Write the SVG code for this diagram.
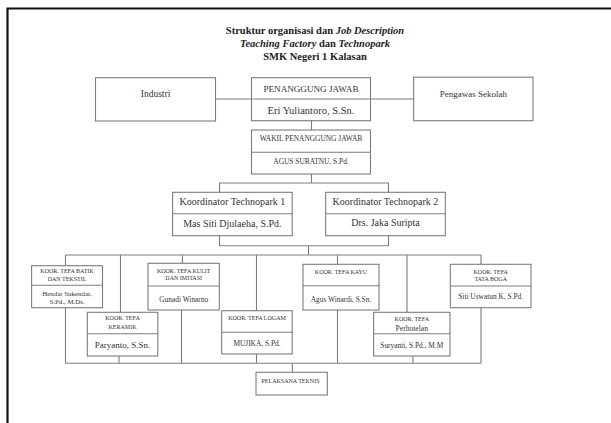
<svg xmlns="http://www.w3.org/2000/svg" width="611" height="423" viewBox="0 0 611 423">
<style>
  .frame { fill: none; stroke: #111; stroke-width: 2.2; }
  .box { fill: #fff; stroke: #7d7d7d; stroke-width: 1.1; }
  .div { stroke: #7d7d7d; stroke-width: 1.1; }
  .ln { fill: none; stroke: #7d7d7d; stroke-width: 1.1; }
  text { font-family: "Liberation Serif", "Times New Roman", serif; fill: #333; text-anchor: middle; dominant-baseline: central; }
  .title { font-weight: bold; font-size: 10.5px; fill: #222; }
  .m { font-size: 10px; }
  .s { font-size: 7.4px; }
  .xs { font-size: 6px; }
</style>
<rect width="611" height="423" fill="#fff"/>
<path class="frame" d="M7.5 423 V8.5 H611"/>

<g id="title">
  <text class="title" x="315" y="30">Struktur organisasi dan <tspan font-style="italic">Job Description</tspan></text>
  <text class="title" x="315" y="43"><tspan font-style="italic">Teaching Factory</tspan> dan <tspan font-style="italic">Technopark</tspan></text>
  <text class="title" x="315" y="56">SMK Negeri 1 Kalasan</text>
</g>

<g id="connectors">
  <path class="ln" d="M215.5 99 H413.7"/>
  <path class="ln" d="M311.5 120.7 V130"/>
  <path class="ln" d="M311.5 174 V183 M219.5 192.3 V183 H388.5 V192.3"/>
  <path class="ln" d="M219.5 235.7 V245.7 H388.5 V235.7 M308.5 245.7 V255"/>
  <path class="ln" d="M65.5 255 H481 M65.5 255 V363.3 M120.5 255 V312.3 M119 356 V363.3 M182.5 255 V263.3 M181.5 310 V363.3 M256.5 255 V363.3 M337.5 255 V363.3 M407 255 V312.3 M413 356 V363.3 M481 255 V363.3 M65.5 363.3 H481"/>
  <path class="ln" d="M292.3 363.3 V372.3"/>
</g>

<g id="industri">
  <rect class="box" x="95.5" y="77.7" width="120" height="43.3"/>
  <text class="m" x="155.5" y="94.3" style="font-size:9.5px">Industri</text>
</g>

<g id="penanggung-jawab">
  <rect class="box" x="251.5" y="77.7" width="119" height="43"/>
  <line class="div" x1="251.5" y1="99" x2="370.5" y2="99"/>
  <text x="311" y="89" style="font-size:9.1px">PENANGGUNG JAWAB</text>
  <text x="311" y="110.5" style="font-size:10.5px">Eri Yuliantoro, S.Sn.</text>
</g>

<g id="pengawas">
  <rect class="box" x="413.7" y="77.2" width="119.3" height="43.5"/>
  <text x="473.3" y="94.3" style="font-size:9px">Pengawas Sekolah</text>
</g>

<g id="wakil">
  <rect class="box" x="251.5" y="130" width="119" height="44"/>
  <line class="div" x1="251.5" y1="152.3" x2="370.5" y2="152.3"/>
  <text class="s" x="311" y="138.7">WAKIL PENANGGUNG JAWAB</text>
  <text class="s" x="311" y="161">AGUS SURATNU, S.Pd.</text>
</g>

<g id="koordinator-1">
  <rect class="box" x="172.6" y="192.3" width="119.6" height="43.4"/>
  <line class="div" x1="172.6" y1="213.7" x2="292.2" y2="213.7"/>
  <text class="m" x="232.4" y="201.7">Koordinator Technopark 1</text>
  <text class="m" x="232.4" y="223.3">Mas Siti Djulaeha, S.Pd.</text>
</g>

<g id="koordinator-2">
  <rect class="box" x="325.7" y="192.3" width="119.6" height="43.4"/>
  <line class="div" x1="325.7" y1="213.7" x2="445.3" y2="213.7"/>
  <text class="m" x="385.5" y="201.3">Koordinator Technopark 2</text>
  <text class="m" x="385.5" y="222.7">Drs. Jaka Suripta</text>
</g>

<g id="batik">
  <rect class="box" x="31.6" y="265.7" width="70.9" height="42"/>
  <line class="div" x1="31.6" y1="285.3" x2="102.5" y2="285.3"/>
  <text class="xs" x="67" y="271">KOOR. TEFA BATIK</text>
  <text class="xs" x="67" y="278.7">DAN TEKSTIL</text>
  <text class="s" x="67" y="293.3" style="font-size:6.9px">Hendar Sukendar,</text>
  <text class="s" x="67" y="301.7" style="font-size:6.9px">S.Pd., M.Ds.</text>
</g>

<g id="keramik">
  <rect class="box" x="87.3" y="312.3" width="70.5" height="43.7"/>
  <line class="div" x1="87.3" y1="333.7" x2="157.8" y2="333.7"/>
  <text class="xs" x="122.5" y="318.3">KOOR. TEFA</text>
  <text class="xs" x="122.5" y="326.7">KERAMIK</text>
  <text x="122.5" y="345" style="font-size:9px">Paryanto, S.Sn.</text>
</g>

<g id="kulit">
  <rect class="box" x="148" y="263.3" width="71.3" height="46.7"/>
  <line class="div" x1="148" y1="286" x2="219.3" y2="286"/>
  <text class="xs" x="183.7" y="270.7">KOOR. TEFA KULIT</text>
  <text class="xs" x="183.7" y="278">DAN IMITASI</text>
  <text class="s" x="183.7" y="299">Gunadi Winarno</text>
</g>

<g id="logam">
  <rect class="box" x="221.7" y="310.7" width="70.5" height="43.3"/>
  <line class="div" x1="221.7" y1="332.3" x2="292.2" y2="332.3"/>
  <text class="xs" x="257" y="317.7">KOOR. TEFA LOGAM</text>
  <text class="s" x="257" y="343.7">MUJIKA, S.Pd.</text>
</g>

<g id="kayu">
  <rect class="box" x="303" y="264.3" width="76" height="45.7"/>
  <line class="div" x1="303" y1="285.7" x2="379" y2="285.7"/>
  <text class="xs" x="341" y="271.7">KOOR. TEFA KAYU</text>
  <text class="s" x="341" y="299">Agus Winardi, S.Sn.</text>
</g>

<g id="perhotelan">
  <rect class="box" x="373.6" y="312.3" width="76.4" height="43.7"/>
  <line class="div" x1="373.6" y1="333.7" x2="450" y2="333.7"/>
  <text class="xs" x="411.8" y="318.7">KOOR. TEFA</text>
  <text class="s" x="411.8" y="328" style="font-size:7.6px">Perhotelan</text>
  <text class="s" x="411.8" y="345">Suryanti, S.Pd., M.M</text>
</g>

<g id="tata-boga">
  <rect class="box" x="450.3" y="264.3" width="80.7" height="43.4"/>
  <line class="div" x1="450.3" y1="286" x2="531" y2="286"/>
  <text class="xs" x="490.7" y="271.7">KOOR. TEFA</text>
  <text class="xs" x="490.7" y="278.7">TATA BOGA</text>
  <text class="s" x="490.7" y="296.3">Siti Uswatun K, S.Pd.</text>
</g>

<g id="pelaksana">
  <rect class="box" x="256" y="372.3" width="71.3" height="22.7"/>
  <text class="xs" x="290.5" y="380.7">PELAKSANA TEKNIS</text>
</g>
</svg>
